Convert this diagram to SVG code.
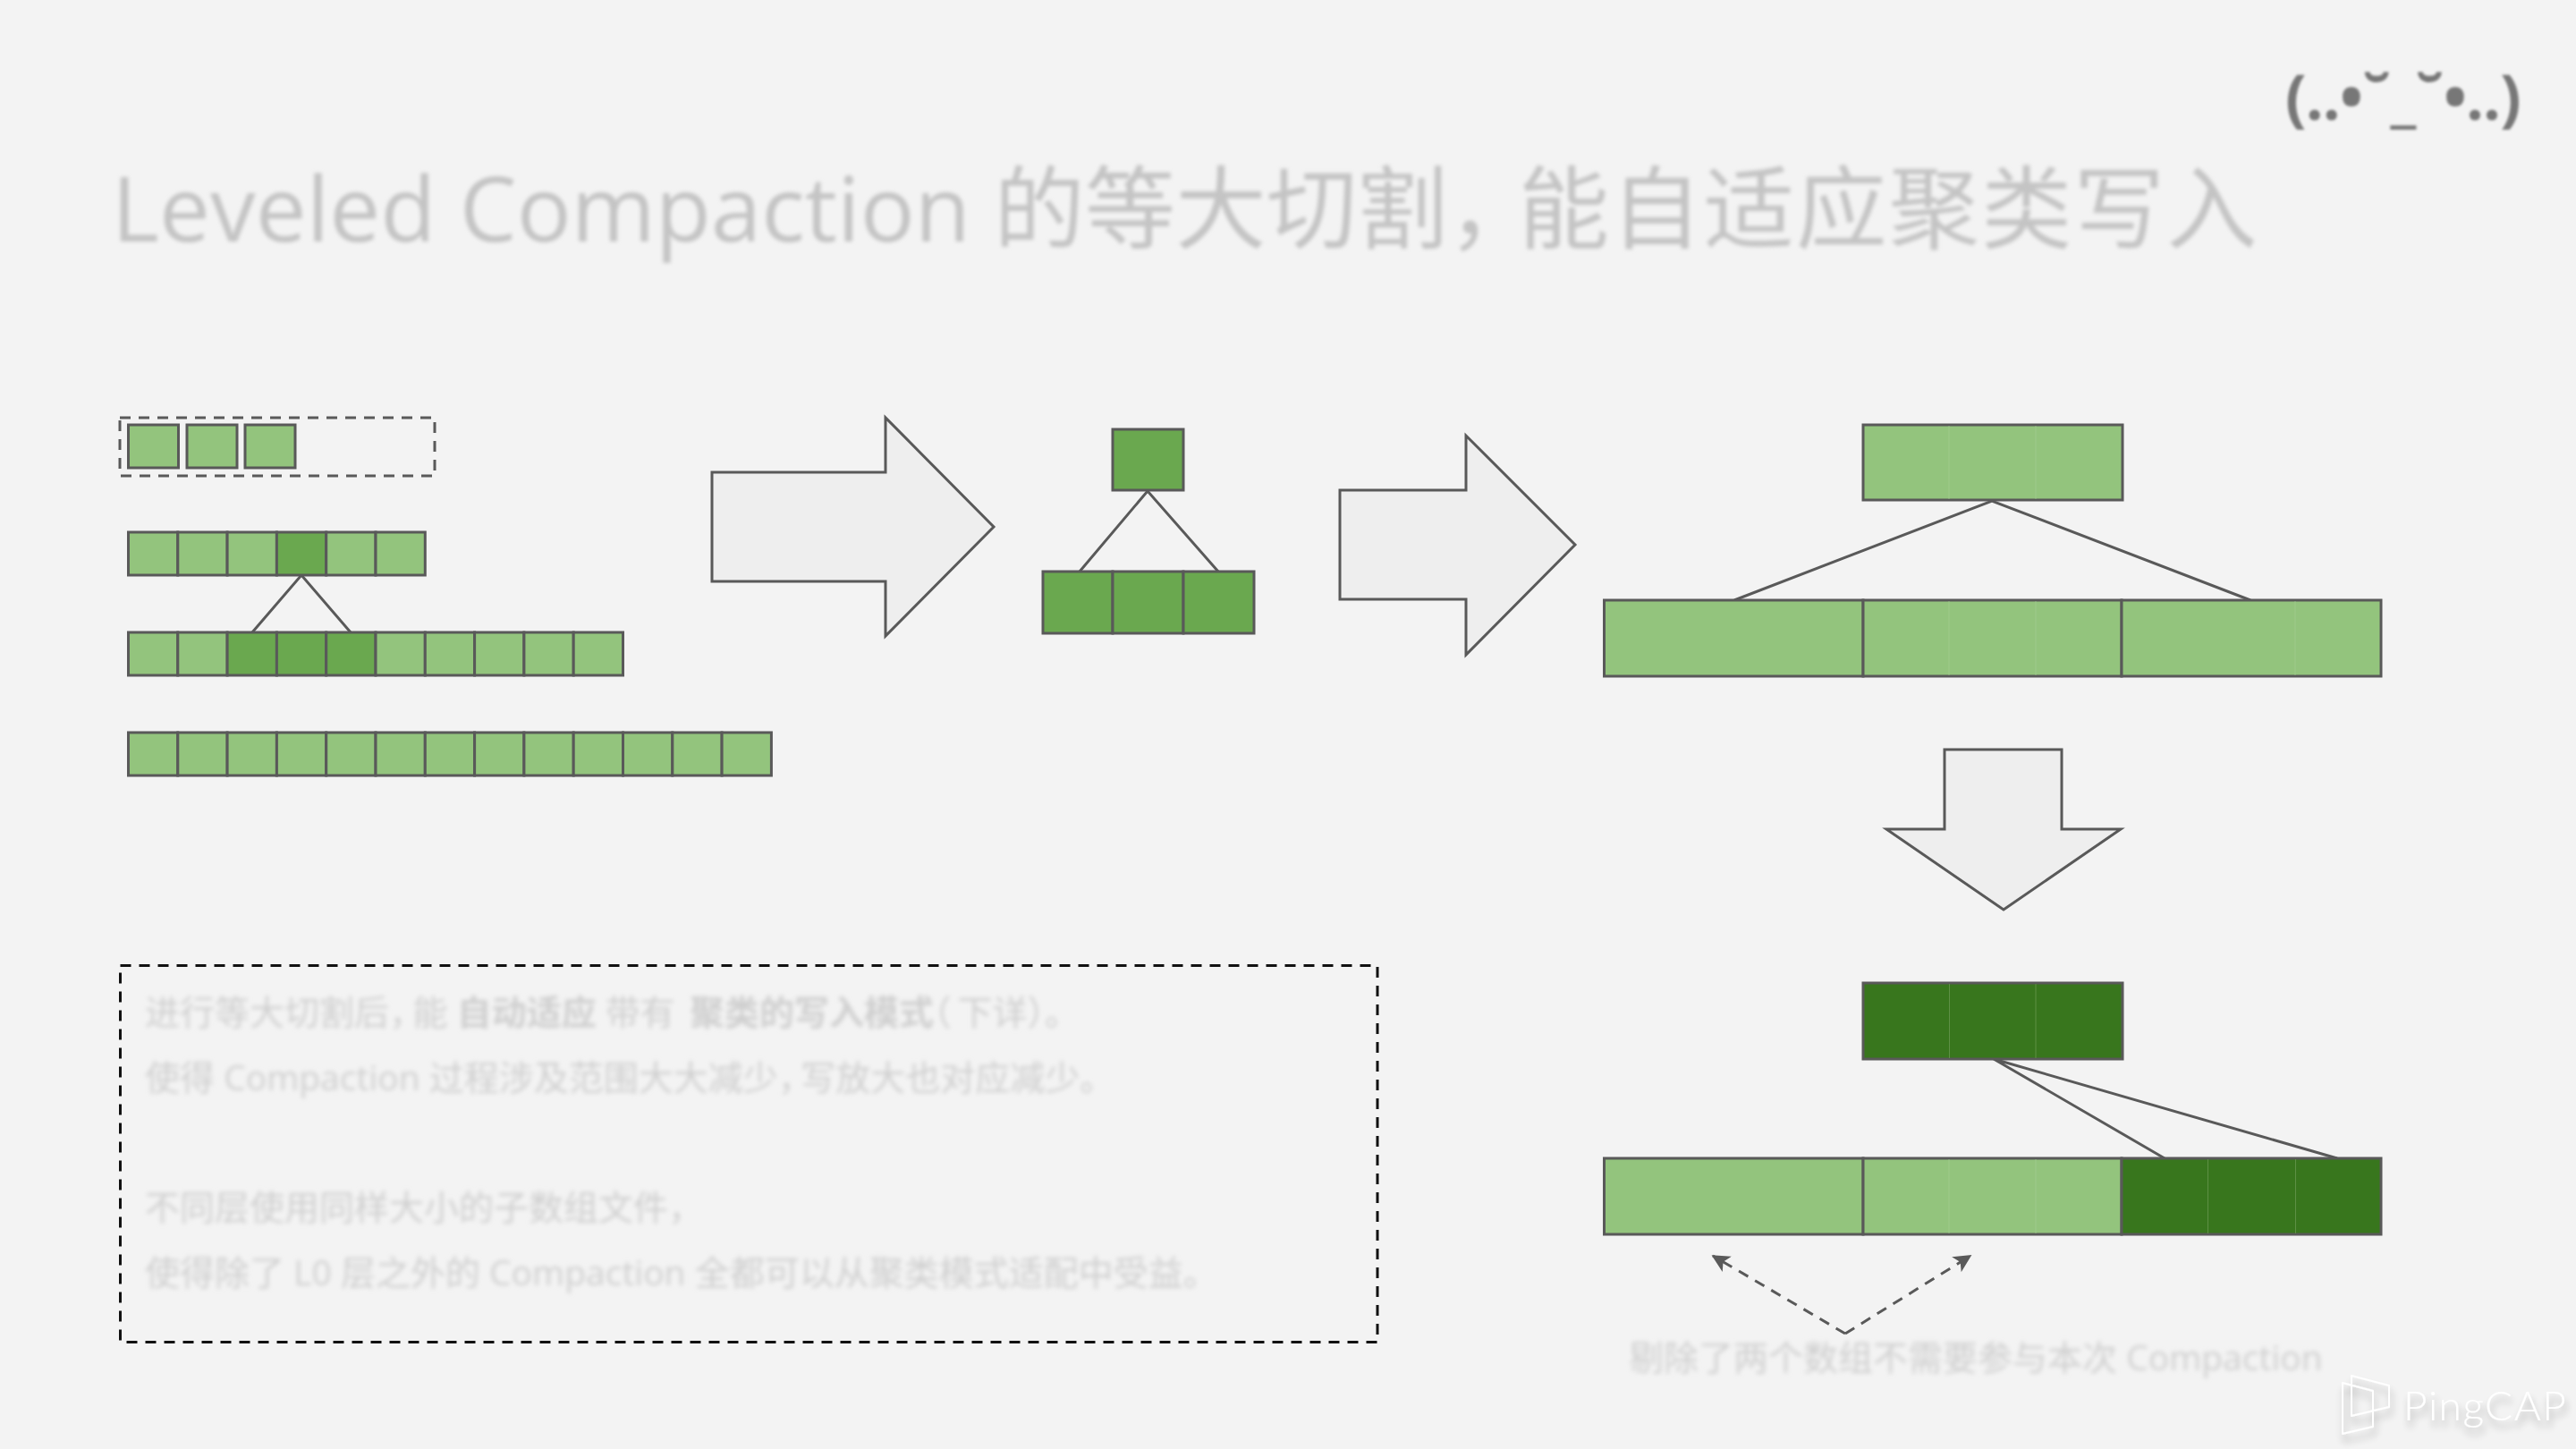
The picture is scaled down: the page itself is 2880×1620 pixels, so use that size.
<svg xmlns="http://www.w3.org/2000/svg" width="2880" height="1620" viewBox="0 0 2880 1620">
<style>
.l{fill:#93c47d;stroke:#595959;stroke-width:3}
.m{fill:#6aa84f;stroke:#595959;stroke-width:3}
.d{fill:#38761d;stroke:#595959;stroke-width:3}
.f{stroke:#a9cf98;stroke-width:1;opacity:.6;fill:none}
.fd{stroke:#5e9045;stroke-width:1;fill:none}
.a{fill:#eeeeee;stroke:#595959;stroke-width:3;stroke-linejoin:miter}
.c{fill:none;stroke:#595959;stroke-width:3}
text{font-family:"Open Sans","Noto Sans CJK SC",sans-serif}
.t{font-size:101.500px;fill:#c4c4c4;filter:url(#b3)}
.b{font-size:39px;fill:#cfcfcf;filter:url(#b2)}
.s{font-weight:700}
.h{font-feature-settings:"halt"}
</style>
<defs>
<filter id="b3" x="-5%" y="-30%" width="110%" height="160%"><feGaussianBlur stdDeviation="2.2"/></filter>
<filter id="b2" x="-5%" y="-50%" width="110%" height="200%"><feGaussianBlur stdDeviation="2.4"/></filter>
<filter id="b1" x="-5%" y="-30%" width="110%" height="160%"><feGaussianBlur stdDeviation="1.8"/></filter>
<filter id="sh" x="-10%" y="-30%" width="120%" height="170%"><feGaussianBlur in="SourceAlpha" stdDeviation="4"/><feOffset dx="2" dy="8"/><feComponentTransfer><feFuncA type="linear" slope=".3"/></feComponentTransfer><feMerge><feMergeNode/><feMergeNode in="SourceGraphic"/></feMerge></filter>
<marker id="ah" viewBox="0 0 12 12" refX="11" refY="6" markerWidth="20" markerHeight="20" markerUnits="userSpaceOnUse" orient="auto"><path d="M0 0L12 6L0 12L3 6Z" fill="#595959"/></marker>
</defs>
<rect width="2880" height="1620" fill="#f3f3f3"/>
<text id="title" class="t" x="125" y="270">Leveled Compaction 的等大切割<tspan class="h">，</tspan><tspan dx="28" letter-spacing="2">能自适应聚类写入</tspan></text>
<text id="face" x="2555" y="134" font-size="70" font-weight="700" letter-spacing="-1" fill="#777777" filter="url(#b1)">(..•˘_˘•..)</text>

<g id="connectors">
<path class="c" d="M282 707L337 643L392 707"/>
<path class="c" d="M1207 639L1283 549L1362 639"/>
<path class="c" d="M1939 671L2227 560L2516 671"/>
<path class="c" d="M2420 1295L2229 1184L2613 1295"/>
<path class="c" stroke-dasharray="12 9" marker-end="url(#ah)" d="M2063 1491L1915 1404"/>
<path class="c" stroke-dasharray="12 9" marker-end="url(#ah)" d="M2063 1491L2203 1404"/>
</g>

<g id="l0">
<rect x="134" y="467" width="352" height="65" fill="none" stroke="#595959" stroke-width="3" stroke-dasharray="12 9"/>
<rect class="l" x="143.500" y="475" width="56" height="48"/>
<rect class="l" x="209" y="475" width="56" height="48"/>
<rect class="l" x="274" y="475" width="56" height="48"/>
</g>
<g id="l1">
<rect class="l" x="143.500" y="595" width="55.300" height="48"/><rect class="l" x="198.800" y="595" width="55.300" height="48"/><rect class="l" x="254.100" y="595" width="55.300" height="48"/><rect class="m" x="309.400" y="595" width="55.300" height="48"/><rect class="l" x="364.700" y="595" width="55.300" height="48"/><rect class="l" x="420" y="595" width="55.300" height="48"/>
</g>
<g id="l2">
<rect class="l" x="143.500" y="707" width="55.300" height="48"/><rect class="l" x="198.800" y="707" width="55.300" height="48"/><rect class="m" x="254.100" y="707" width="55.300" height="48"/><rect class="m" x="309.400" y="707" width="55.300" height="48"/><rect class="m" x="364.700" y="707" width="55.300" height="48"/><rect class="l" x="420" y="707" width="55.300" height="48"/><rect class="l" x="475.300" y="707" width="55.300" height="48"/><rect class="l" x="530.600" y="707" width="55.300" height="48"/><rect class="l" x="585.900" y="707" width="55.300" height="48"/><rect class="l" x="641.200" y="707" width="55.300" height="48"/>
</g>
<g id="l3">
<rect class="l" x="143.500" y="819" width="55.300" height="48"/><rect class="l" x="198.800" y="819" width="55.300" height="48"/><rect class="l" x="254.100" y="819" width="55.300" height="48"/><rect class="l" x="309.400" y="819" width="55.300" height="48"/><rect class="l" x="364.700" y="819" width="55.300" height="48"/><rect class="l" x="420" y="819" width="55.300" height="48"/><rect class="l" x="475.300" y="819" width="55.300" height="48"/><rect class="l" x="530.600" y="819" width="55.300" height="48"/><rect class="l" x="585.900" y="819" width="55.300" height="48"/><rect class="l" x="641.200" y="819" width="55.300" height="48"/><rect class="l" x="696.500" y="819" width="55.300" height="48"/><rect class="l" x="751.800" y="819" width="55.300" height="48"/><rect class="l" x="807.100" y="819" width="55.300" height="48"/>
</g>

<polygon id="arrow1" class="a" points="796,528 990,528 990,467 1111,589 990,711 990,650 796,650"/>
<g id="mid">
<rect class="m" x="1244" y="480" width="79" height="68"/>
<rect class="m" x="1166" y="639" width="78" height="69"/><rect class="m" x="1244" y="639" width="79" height="69"/><rect class="m" x="1323" y="639" width="79" height="69"/>
</g>
<polygon id="arrow2" class="a" points="1498,548 1639,548 1639,487 1761,609 1639,732 1639,670 1498,670"/>

<g id="top-light">
<rect class="l" x="2083" y="475" width="290" height="84"/>
<path class="f" d="M2179 476V558M2276 476V558"/>
</g>
<g id="row-light">
<rect class="l" x="1793.500" y="671" width="289.500" height="85"/><rect class="l" x="2083" y="671" width="289" height="85"/><rect class="l" x="2372" y="671" width="290" height="85"/>
<path class="f" d="M2179 672V755M2276 672V755M2566 672V755"/>
</g>
<polygon id="arrow3" class="a" points="2174,838 2305,838 2305,927 2371,927 2240,1017 2109,927 2174,927"/>
<g id="top-dark">
<rect class="d" x="2083" y="1099" width="290" height="85"/>
<path class="fd" d="M2179.500 1100V1183M2276 1100V1183"/>
</g>
<g id="row-mixed">
<rect class="l" x="1793.500" y="1295" width="289.500" height="85"/><rect class="l" x="2083" y="1295" width="289" height="85"/><rect class="d" x="2372" y="1295" width="290" height="85"/>
<path class="f" d="M2179 1296V1379M2276 1296V1379"/>
<path class="fd" d="M2468.500 1296V1379M2566.500 1296V1379"/>
</g>

<g id="note">
<rect x="134.500" y="1079.500" width="1405.500" height="421" fill="none" stroke="#111111" stroke-width="3" stroke-dasharray="12 9"/>
<text class="b" x="162" y="1146">进行等大切割后<tspan class="h">，</tspan><tspan dx="7">能</tspan> <tspan class="s">自动适应</tspan> 带有 <tspan class="s" dx="6">聚类的写入模式</tspan><tspan class="h">（</tspan><tspan dx="7">下详）。</tspan></text>
<text class="b" x="162" y="1219">使得 Compaction 过程涉及范围大大减少<tspan class="h">，</tspan><tspan dx="6">写放大也对应减少。</tspan></text>
<text class="b" x="162" y="1364">不同层使用同样大小的子数组文件，</text>
<text class="b" x="162" y="1437">使得除了 L0 层之外的 Compaction 全都可以从聚类模式适配中受益。</text>
</g>
<text id="caption" class="b" x="1821" y="1532">剔除了两个数组不需要参与本次 Compaction</text>

<g id="logo" filter="url(#sh)">
<path d="M2629 1538L2671 1549V1573L2629 1583ZM2619 1546L2653 1555V1595L2619 1603Z" fill="none" stroke="#ffffff" stroke-width="2" stroke-linejoin="round"/>
<text x="2687" y="1588" font-size="46" font-weight="300" letter-spacing="1.500" fill="#ffffff" style="font-family:Lato,sans-serif">PingCAP</text>
</g>
</svg>
